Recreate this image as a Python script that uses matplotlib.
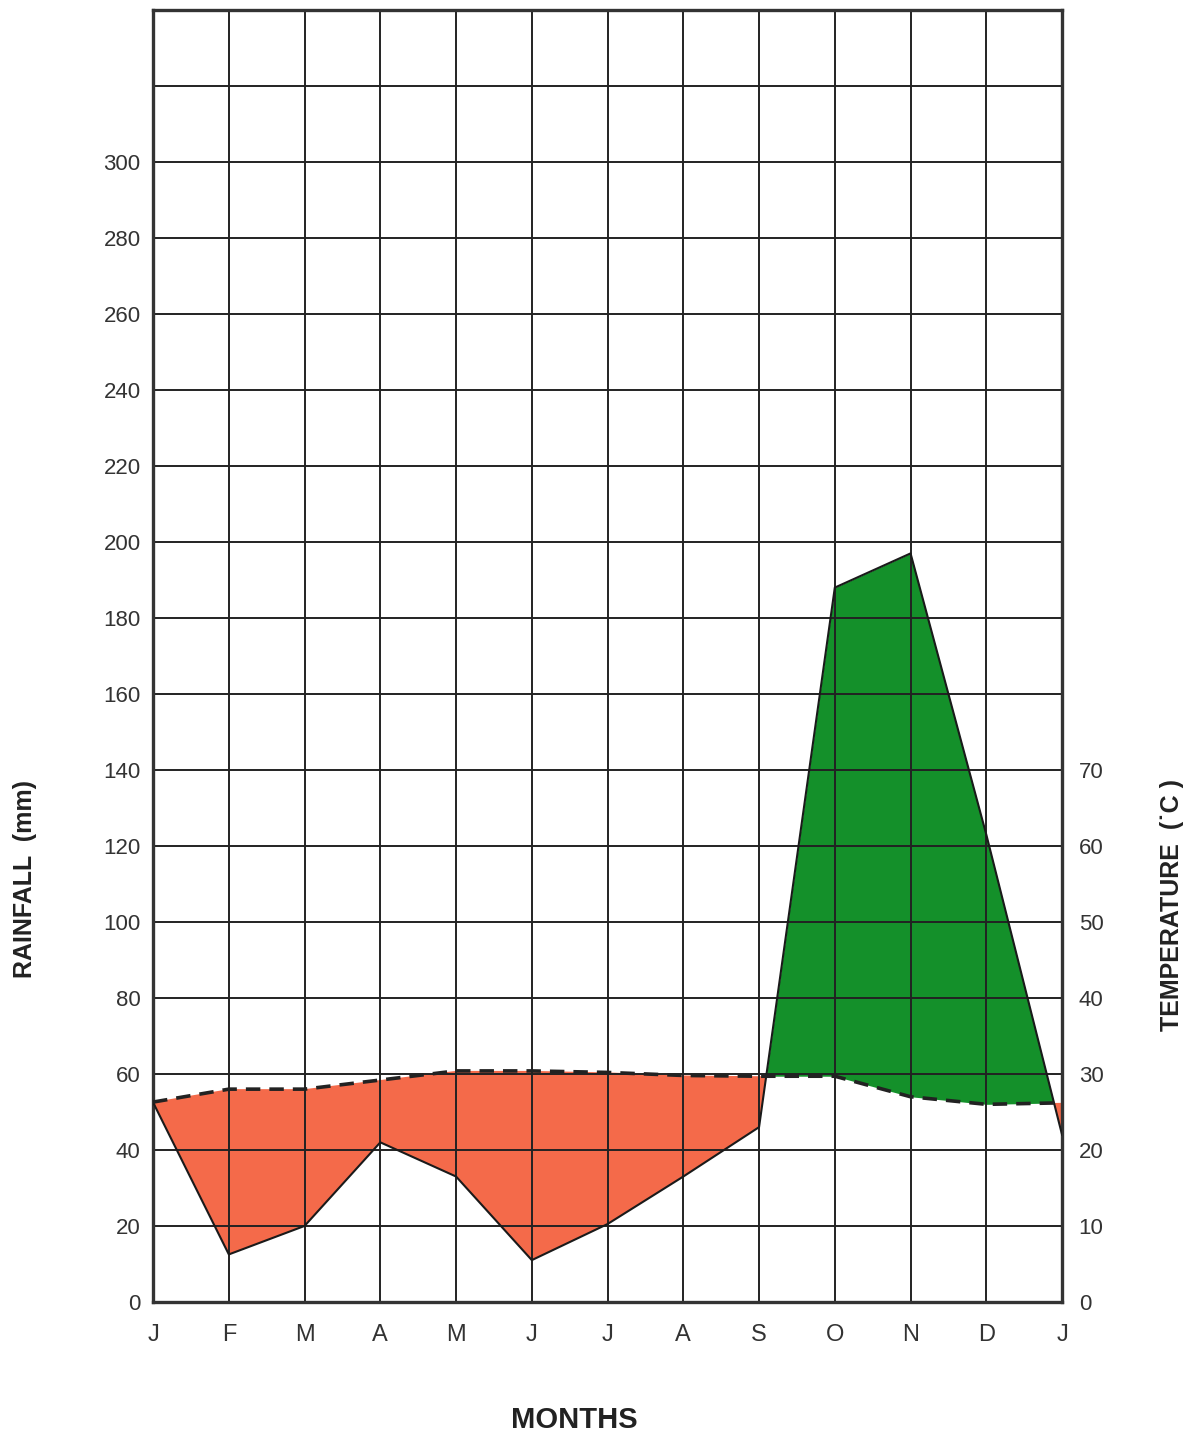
import numpy as np
import matplotlib
matplotlib.use("Agg")
import matplotlib.pyplot as plt

plt.rcParams['font.family'] = ['Liberation Sans', 'DejaVu Sans']

# data
months = ['J', 'F', 'M', 'A', 'M', 'J', 'J', 'A', 'S', 'O', 'N', 'D', 'J']
rainfall = [52.5, 12.5, 20, 42, 33, 11, 20.5, 33, 46, 188, 197, 123, 44]
temperature = [26.3, 28, 28, 29.2, 30.4, 30.4, 30.2, 29.8, 29.7, 29.7, 27, 26, 26.2]

rain_ticks = list(range(0, 301, 20))
temp_ticks = list(range(0, 71, 10))

x = np.arange(len(months))
rain = np.array(rainfall, dtype=float)
temp_mm = np.array(temperature) * 2  # temp axis is half the rain axis

# densify so fill colours switch at the crossings
xf = np.linspace(0, len(months) - 1, 1201)
rf = np.interp(xf, x, rain)
tf = np.interp(xf, x, temp_mm)

fig = plt.figure(figsize=(11.96, 14.37), dpi=100)
ax = fig.add_axes([0.128, 0.094, 0.76, 0.899])

ax.fill_between(xf, rf, tf, where=rf <= tf, color='#f46a4a', linewidth=0, zorder=1)
ax.fill_between(xf, rf, tf, where=rf >= tf, color='#14902a', linewidth=0, zorder=1)

# grid
for xv in x:
    ax.axvline(xv, color='#222222', lw=1.4, zorder=2)
for yv in range(0, 341, 20):
    ax.axhline(yv, color='#222222', lw=1.4, zorder=2)

ax.plot(x, rain, color='#1a1a1a', lw=1.5, zorder=3)
ax.plot(x, temp_mm, color='#222222', lw=2.6, ls=(0, (4, 2.5)), zorder=3)

ax.set_xlim(0, len(months) - 1)
ax.set_ylim(0, 340)
ax.set_xticks(x)
ax.set_xticklabels(months)
ax.set_yticks(rain_ticks)
ax.tick_params(axis='both', length=0, colors='#333333')
ax.tick_params(axis='x', pad=16, labelsize=17)
ax.tick_params(axis='y', pad=9, labelsize=16)
for s in ax.spines.values():
    s.set_linewidth(2.4)
    s.set_color('#333333')

ax2 = ax.twinx()
ax2.set_ylim(0, 170)
ax2.set_yticks(temp_ticks)
ax2.tick_params(axis='y', length=0, labelsize=16, colors='#333333', pad=12)
for s in ax2.spines.values():
    s.set_visible(False)

fig.text(0.021, 0.388, 'RAINFALL  (mm)', rotation=90, ha='center', va='center',
         fontsize=18, fontweight='bold', color='#222222')
fig.text(0.98, 0.37, 'TEMPERATURE  (\u02d9C )', rotation=90, ha='center', va='center',
         fontsize=18, fontweight='bold', color='#222222')
fig.text(0.48, 0.012, 'MONTHS', ha='center', va='center',
         fontsize=21, fontweight='bold', color='#222222')

fig.savefig('out.png', dpi=100, facecolor='white')
